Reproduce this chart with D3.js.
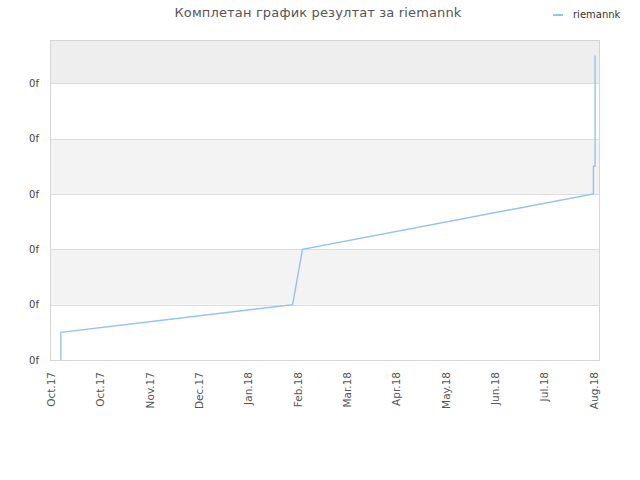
<!DOCTYPE html>
<html>
<head>
<meta charset="utf-8">
<script src="https://cdn.jsdelivr.net/npm/d3@7"></script>
<style>
    body { margin: 0; background: #fff; }
    text { font-family: "DejaVu Sans", sans-serif; }
</style>
</head>
<body>
<div id="chart"></div>
<script>
// series
const dates = [ '2017-10-07', '2017-10-07', '2018-02-25', '2018-03-03',
    '2018-08-27', '2018-08-27', '2018-08-28', '2018-08-28' ];
const values = [ 0, 0.5, 1, 2, 3, 3.5, 3.5, 5.5 ];

const yTicks = [ 0, 1, 2, 3, 4, 5 ];
const yTickLabels = [ '0f', '0f', '0f', '0f', '0f', '0f' ];

const xTicks = [ '2017-10-01', '2017-10-31', '2017-11-30', '2017-12-30',
    '2018-01-29', '2018-02-28', '2018-03-30', '2018-04-29', '2018-05-29',
    '2018-06-28', '2018-07-28', '2018-08-27' ];
const xTickLabels = [ 'Oct.17', 'Oct.17', 'Nov.17', 'Dec.17', 'Jan.18', 'Feb.18',
    'Mar.18', 'Apr.18', 'May.18', 'Jun.18', 'Jul.18', 'Aug.18' ];

const title = 'Комплетан график резултат за riemannk';
const seriesName = 'riemannk';

const dimensions = { width: 640,
    height: 480,
    left: 51,
    right: 600,
    top: 40,
    bottom: 360 };

const parse = d3.utcParse('%Y-%m-%d');
const data = dates.map((d, i) => ({ date: parse(d), value: values[i] }));

const x = d3.scaleUtc()
    .domain([ parse('2017-10-01'), parse('2018-08-31') ])
    .range([ dimensions.left, dimensions.right ]);
const y = d3.scaleLinear()
    .domain([ 0, 5.78 ])
    .range([ dimensions.bottom, dimensions.top ]);

const svg = d3.select('#chart')
    .append('svg')
    .attr('width', dimensions.width)
    .attr('height', dimensions.height);

// alternating bands
const bandEdges = yTicks.concat([ y.domain()[1] ]);
svg.append('g')
    .selectAll('rect')
    .data(bandEdges.slice(0, -1))
    .enter()
    .append('rect')
    .attr('x', dimensions.left)
    .attr('width', dimensions.right - dimensions.left)
    .attr('y', (d, i) => y(bandEdges[i + 1]))
    .attr('height', (d, i) => y(d) - y(bandEdges[i + 1]))
    .attr('fill', (d, i) => {
        if (i === 5) {
            return '#eeeeee';
        }

        return i % 2 === 1 ? '#f3f3f3' : '#ffffff';
    });

// grid lines
svg.append('g')
    .selectAll('line')
    .data(yTicks)
    .enter()
    .append('line')
    .attr('x1', dimensions.left)
    .attr('x2', dimensions.right)
    .attr('y1', d => Math.round(y(d)) + 0.5)
    .attr('y2', d => Math.round(y(d)) + 0.5)
    .attr('stroke', '#dcdcdc');

svg.append('rect')
    .attr('x', dimensions.left - 0.5)
    .attr('y', dimensions.top + 0.5)
    .attr('width', dimensions.right - dimensions.left)
    .attr('height', dimensions.bottom - dimensions.top)
    .attr('fill', 'none')
    .attr('stroke', '#d6d6d6');

const yAxis = d3.axisLeft(y)
    .tickValues(yTicks)
    .tickSize(0)
    .tickPadding(12)
    .tickFormat((d, i) => yTickLabels[i]);

svg.append('g')
    .attr('transform', `translate(${dimensions.left}, 0)`)
    .call(yAxis)
    .call(g => g.select('.domain').remove())
    .selectAll('text')
    .attr('font-family', '"DejaVu Sans", sans-serif')
    .attr('font-size', 10)
    .attr('fill', '#444');

const xAxis = d3.axisBottom(x)
    .tickValues(xTicks.map(parse))
    .tickSize(0)
    .tickFormat((d, i) => xTickLabels[i]);

svg.append('g')
    .attr('transform', `translate(0, ${dimensions.bottom})`)
    .call(xAxis)
    .call(g => g.select('.domain').remove())
    .selectAll('text')
    .attr('font-family', '"DejaVu Sans", sans-serif')
    .attr('font-size', 10.5)
    .attr('fill', '#555')
    .style('text-anchor', 'end')
    .attr('dx', '-12')
    .attr('dy', '0.35em')
    .attr('y', 0)
    .attr('transform', 'rotate(-90)');

const line = d3.line()
    .x(d => x(d.date))
    .y(d => y(d.value));

svg.append('path')
    .datum(data)
    .attr('d', line)
    .attr('fill', 'none')
    .attr('stroke', '#92c3f1')
    .attr('stroke-width', 1.4);

svg.append('text')
    .attr('x', 318)
    .attr('y', 17)
    .attr('text-anchor', 'middle')
    .attr('font-size', 13)
    .attr('letter-spacing', 0.15)
    .attr('fill', '#555')
    .text(title);

svg.append('line')
    .attr('x1', 553)
    .attr('x2', 563)
    .attr('y1', 15)
    .attr('y2', 15)
    .attr('stroke', '#92c3f1')
    .attr('stroke-width', 2);

svg.append('text')
    .attr('x', 573)
    .attr('y', 18)
    .attr('font-size', 10)
    .attr('fill', '#333')
    .text(seriesName);
</script>
</body>
</html>
